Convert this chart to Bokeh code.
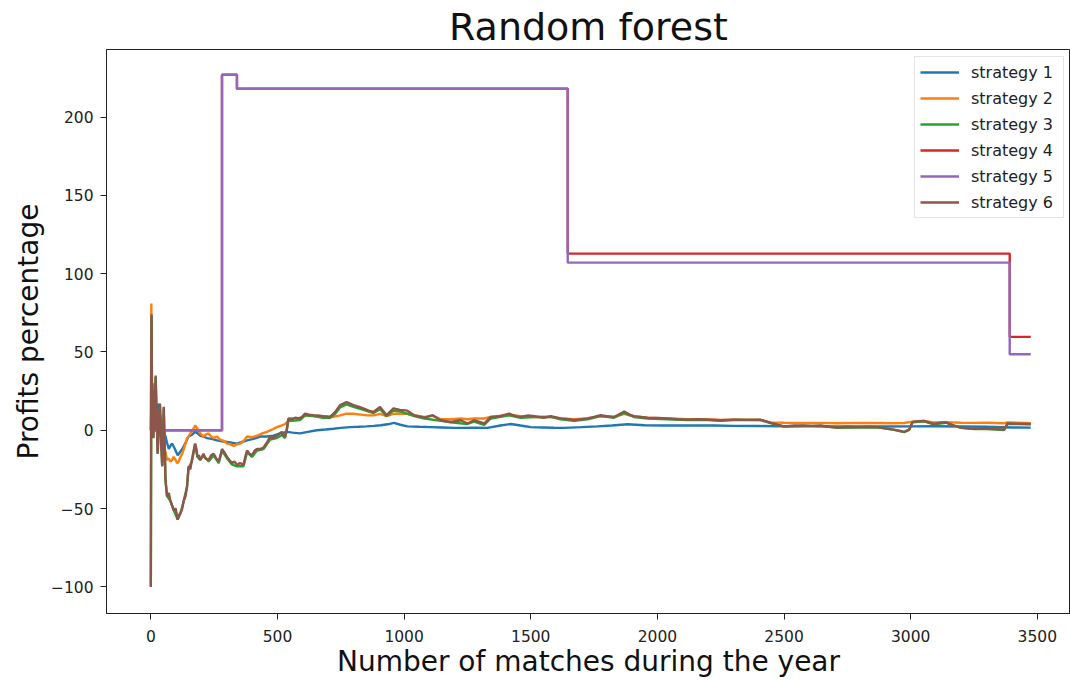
from bokeh.plotting import figure
from bokeh.models import Range1d, FixedTicker
from bokeh.embed import file_html
from bokeh.resources import INLINE

# ---------------- data ----------------
s1_x = [0, 2, 5, 10, 19, 30, 36, 45, 58, 64, 71, 77, 84, 95, 106, 115, 124, 137, 149, 162, 175, 185, 195, 208, 222, 240,
        261, 280, 301, 320, 340, 360, 380, 405, 432, 458, 484, 510, 537, 560, 589, 620, 655, 690, 721, 750, 787, 820,
        852, 880, 908, 935, 960, 985, 1013, 1060, 1105, 1150, 1200, 1237, 1280, 1329, 1380, 1421, 1460, 1500, 1550,
        1590, 1632, 1700, 1763, 1820, 1882, 1950, 2026, 2100, 2160, 2224, 2300, 2400, 2500, 2600, 2700, 2800, 2900,
        3000, 3100, 3200, 3300, 3400, 3474]
s1_y = [0, 15, 5, 0, 8, 17, 10, 2, -4, -8, -12, -10, -8.5, -12, -16, -14, -12, -8, -4, -3, -1, -2, -3.5, -4, -5, -5.5,
        -6.5, -7, -7.5, -8, -8.5, -7.5, -6.5, -5.5, -4, -4, -3.5, -2, -1, -1.5, -2, -1, 0, 0.5, 1, 1.5, 2, 2.2,
        2.5, 2.8, 3.2, 3.8, 4.7, 3.5, 2.5, 2.2, 2, 1.8, 1.5, 1.5, 1.6, 1.5, 3, 4, 3, 2, 1.8,
        1.6, 1.5, 2, 2.5, 3, 3.8, 3.2, 3, 3, 3.1, 3, 2.8, 2.7, 2.5, 2.5, 2.4, 2.5, 2.4,
        2.5, 2.6, 2.4, 2.2, 1.8, 1.7]

s2_x = [0, 2, 4, 7, 10, 14, 19, 25, 31, 36, 41, 45, 51, 58, 64, 71, 77, 84, 90, 98, 104, 110, 117, 124, 130, 137, 143,
        149, 156, 165, 175, 180, 188, 195, 208, 215, 228, 238, 248, 260, 274, 290, 301, 315, 327, 340, 353, 366, 380,
        400, 419, 440, 458, 480, 497, 515, 530, 543, 550, 580, 616, 650, 690, 721, 747, 773, 800, 830, 852, 880, 905,
        931, 958, 984, 1013, 1040, 1080, 1113, 1145, 1184, 1224, 1250, 1276, 1316, 1342, 1414, 1460, 1513, 1579,
        1618, 1671, 1724, 1776, 1829, 1869, 1908, 1961, 2040, 2119, 2198, 2249, 2302, 2407, 2447, 2500, 2579, 2645,
        2710, 2789, 2868, 2934, 2974, 3007, 3053, 3092, 3139, 3198, 3250, 3303, 3369, 3382, 3474]
s2_y = [0, 81, 10, 20, 0, 15, 8, 0, 12, 8, 0, -5, -8.5, -14, -19, -18, -20, -19, -17, -19, -21, -20, -17, -15, -12,
        -8.5, -5, -4, -2, 0, 3, 2, 0, -2, -4, -3, -2, -4, -5, -4, -6, -7, -8.5, -9, -10, -9, -8.5, -7, -4,
        -4.5, -3.5, -2, -1, 0.5, 2, 3, 4, 6, 7.5, 7.5, 9.6, 9, 8.8, 8.5, 9.5, 10.6, 10.5, 10, 9.6, 9.5, 10.5,
        9, 10.5, 10.6, 10.5, 9.5, 8.5, 9.2, 7, 7, 7.5, 7, 7.5, 7.5, 8.5, 10, 9, 8.5, 8.5,
        7.5, 7, 7.5, 9, 8.5, 10.5, 8.8, 8, 7.5, 7, 7, 6.5, 6.8, 6.5, 5, 4.8, 4.7, 4.7,
        4.5, 4.7, 4.6, 4.5, 4.6, 5.5, 6, 5, 5.2, 4.8, 4.7, 4.8, 4.5, 5, 4.5]

s3_x = [0, 3, 5, 10, 19, 27, 36, 45, 51, 58, 64, 77, 90, 106, 117, 130, 143, 149, 162, 175, 184, 195, 208, 228, 248,
        268, 281, 301, 321, 340, 366, 380, 399, 419, 445, 471, 497, 517, 530, 543, 557, 589, 609, 642, 680, 708, 728,
        747, 773, 800, 839, 879, 905, 931, 958, 984, 1040, 1080, 1145, 1184, 1250, 1276, 1316, 1342, 1414, 1460,
        1513, 1579, 1618, 1671, 1724, 1776, 1829, 1869, 1908, 1961, 2040, 2119, 2198, 2249, 2302, 2407, 2447, 2500,
        2579, 2645, 2710, 2789, 2868, 2934, 2974, 2994, 3007, 3053, 3092, 3139, 3198, 3250, 3303, 3369, 3382, 3474]
s3_y = [-100, 73, 10, -5, 34, -15, 16, -23, 14, -32, -42, -45, -51, -57, -53, -45, -36, -24, -20, -9, -17, -19, -16,
        -20, -16, -21, -13, -18, -22, -23, -23, -14, -17, -13, -12, -6, -5, -3, -5, 6, 6, 6.5, 9.5, 9, 8, 8, 10.5,
        14.5, 16.5, 15, 13, 11, 13.5, 9, 12.5, 12, 9, 7.5, 6, 5, 4, 5.5, 3.5, 7.5, 9.5, 8,
        8.5, 8.5, 7, 6, 7, 9, 8, 11, 8.5, 7.5, 7, 6.5, 6.5, 6, 6.5, 6.5, 4.5, 2.3,
        2.8, 2.8, 1.5, 1.8, 1.8, 0.2, -1.2, 0.2, 5, 5.7, 3.8, 4.8, 1.5, 0.8, 0.8, 0.2, 4, 3.8]

s4_x = [0, 281, 340, 1646, 3391, 3474]
s4_y = [0, 227, 218, 112.8, 59.6, 59.6]

s5_x = [0, 281, 340, 1646, 3391, 3474]
s5_y = [0, 227, 218, 107, 48.5, 48.5]

s6_x = [0, 1, 3, 5, 7, 10, 13, 16, 19, 23, 27, 31, 36, 41, 45, 51, 58, 64, 71, 77, 84, 90, 98, 106, 112, 117, 124,
        130, 137, 143, 149, 156, 162, 168, 175, 180, 184, 190, 195, 202, 208, 215, 228, 238, 248, 258, 268, 275, 281,
        290, 301, 310, 321, 330, 340, 352, 366, 373, 380, 390, 399, 410, 419, 432, 445, 458, 471, 484, 497, 510, 517,
        524, 530, 537, 543, 557, 570, 589, 600, 609, 625, 642, 660, 680, 708, 728, 747, 760, 773, 787, 800, 820, 839,
        860, 879, 905, 931, 958, 984, 1013, 1040, 1080, 1113, 1145, 1184, 1224, 1250, 1276, 1316, 1342, 1380, 1414,
        1440, 1460, 1490, 1513, 1550, 1579, 1618, 1650, 1671, 1700, 1724, 1750, 1776, 1800, 1829, 1869, 1890, 1908,
        1935, 1961, 2000, 2040, 2080, 2119, 2160, 2198, 2249, 2302, 2350, 2407, 2447, 2475, 2500, 2540, 2579, 2610,
        2645, 2680, 2710, 2750, 2789, 2830, 2868, 2900, 2934, 2960, 2974, 2994, 3007, 3030, 3053, 3070, 3092, 3115,
        3139, 3170, 3198, 3225, 3250, 3280, 3303, 3340, 3369, 3382, 3420, 3474]
s6_y = [-100, 20, 74, 10, 30, -5, 25, 0, 35, 10, -15, 5, 17, -10, -23, 15, -32, -42, -40, -45, -48, -51, -50, -57,
        -54, -53, -50, -45, -42, -36, -23, -25, -19, -14, -8.5, -12, -17, -16, -19, -17, -15, -18, -19, -16, -15,
        -18, -20, -16, -12, -14, -17, -19, -21, -20, -22, -21, -22, -17, -13, -15, -16, -13, -12, -12, -11, -8, -4,
        -5, -3.5, -2, -1, -3, -4, 0, 7.5, 7, 8, 7.5, 9, 10.6, 10, 9.6, 9.5, 9, 8.5, 11.7, 16, 17, 18, 17, 16, 15,
        14, 12.5, 11.7, 14.9, 9.6, 14, 13, 12.5, 9.6, 8.1, 9.6, 6.4, 5.3, 6.4, 4.3, 6.4, 4.3, 8.5, 9, 10.6, 9, 8.5,
        9.5, 9, 8, 9, 7.5, 7, 6.4, 7, 7.5, 8.5, 9.6, 9, 8.5, 12, 10, 9, 8.5, 8, 7.8, 7.5, 7, 6.8, 7, 6.8, 6.4, 6.8,
        6.6, 6.8, 4.7, 3.5, 2.5, 3, 3, 2.8, 3, 2.2, 1.7, 2.2, 2, 2.2, 2, 1.2, 0.4, -0.5, -1, 0.4, 5.3, 5.8, 6, 5, 4,
        4.8, 5, 3, 1.7, 1.2, 1, 1, 1, 0.8, 0.4, 4.3, 4.2, 4]

labels = ["strategy 1", "strategy 2", "strategy 3", "strategy 4", "strategy 5", "strategy 6"]
colors = ["#1f77b4", "#ff7f0e", "#2ca02c", "#d62728", "#9467bd", "#8c564b"]

x_ticks = [0, 500, 1000, 1500, 2000, 2500, 3000, 3500]
y_ticks = [-100, -50, 0, 50, 100, 150, 200]
y_tick_text = {-100: "\u2212100", -50: "\u221250", 0: "0", 50: "50", 100: "100", 150: "150", 200: "200"}

title_text = "Random forest"
x_label = "Number of matches during the year"
y_label = "Profits percentage"

# ---------------- figure ----------------
FONT = "DejaVu Sans"
p = figure(width=1070, height=681, output_backend="svg", toolbar_location=None,
           x_range=Range1d(-175, 3631), y_range=Range1d(-117.0, 243.1),
           min_border_left=106, min_border_right=0, min_border_top=49, min_border_bottom=68,
           title=title_text)
p.title.align = "center"
p.title.text_font = FONT
p.title.text_font_size = "38px"
p.title.text_font_style = "normal"
p.title.text_color = "#111111"
p.title.standoff = 1
p.title.offset = 0

p.xgrid.visible = False
p.ygrid.visible = False
p.outline_line_color = "#222222"
p.outline_line_width = 1

for ax in (p.xaxis[0], p.yaxis[0]):
    ax.axis_line_color = "#222222"
    ax.major_tick_line_color = "#222222"
    ax.minor_tick_line_color = None
    ax.major_tick_in = 0
    ax.major_tick_out = 6
    ax.major_label_text_font = FONT
    ax.major_label_text_font_size = "15.5px"
    ax.major_label_text_color = "#222222"
    ax.axis_label_text_font = FONT
    ax.axis_label_text_font_size = "28px"
    ax.axis_label_text_font_style = "normal"
    ax.axis_label_text_color = "#111111"

p.xaxis[0].ticker = FixedTicker(ticks=x_ticks)
p.yaxis[0].ticker = FixedTicker(ticks=y_ticks)
p.yaxis[0].major_label_overrides = y_tick_text
p.xaxis[0].axis_label = x_label
p.yaxis[0].axis_label = y_label
p.xaxis[0].major_label_standoff = 10
p.xaxis[0].axis_label_standoff = 0
p.yaxis[0].major_label_standoff = 7
p.yaxis[0].axis_label_standoff = 3

LW = 2.4
p.line(s1_x, s1_y, color=colors[0], line_width=LW, legend_label=labels[0])
p.line(s2_x, s2_y, color=colors[1], line_width=LW, legend_label=labels[1])
p.line(s3_x, s3_y, color=colors[2], line_width=LW, legend_label=labels[2])
p.step(s4_x, s4_y, color=colors[3], line_width=LW, mode="after", legend_label=labels[3])
p.step(s5_x, s5_y, color=colors[4], line_width=LW, mode="after", legend_label=labels[4])
p.line(s6_x, s6_y, color=colors[5], line_width=LW, legend_label=labels[5])

lg = p.legend[0]
lg.location = (808, 395)
lg.margin = 0
lg.padding = 5
lg.spacing = 6
lg.label_height = 20
lg.label_width = 87
lg.glyph_height = 20
lg.glyph_width = 39
lg.label_standoff = 12
lg.label_text_font = FONT
lg.label_text_font_size = "16px"
lg.label_text_color = "#222222"
lg.border_line_color = "#cccccc"
lg.border_line_width = 1
lg.background_fill_alpha = 0.8
lg.background_fill_color = "white"

open("out.html", "w").write(file_html(p, INLINE))
